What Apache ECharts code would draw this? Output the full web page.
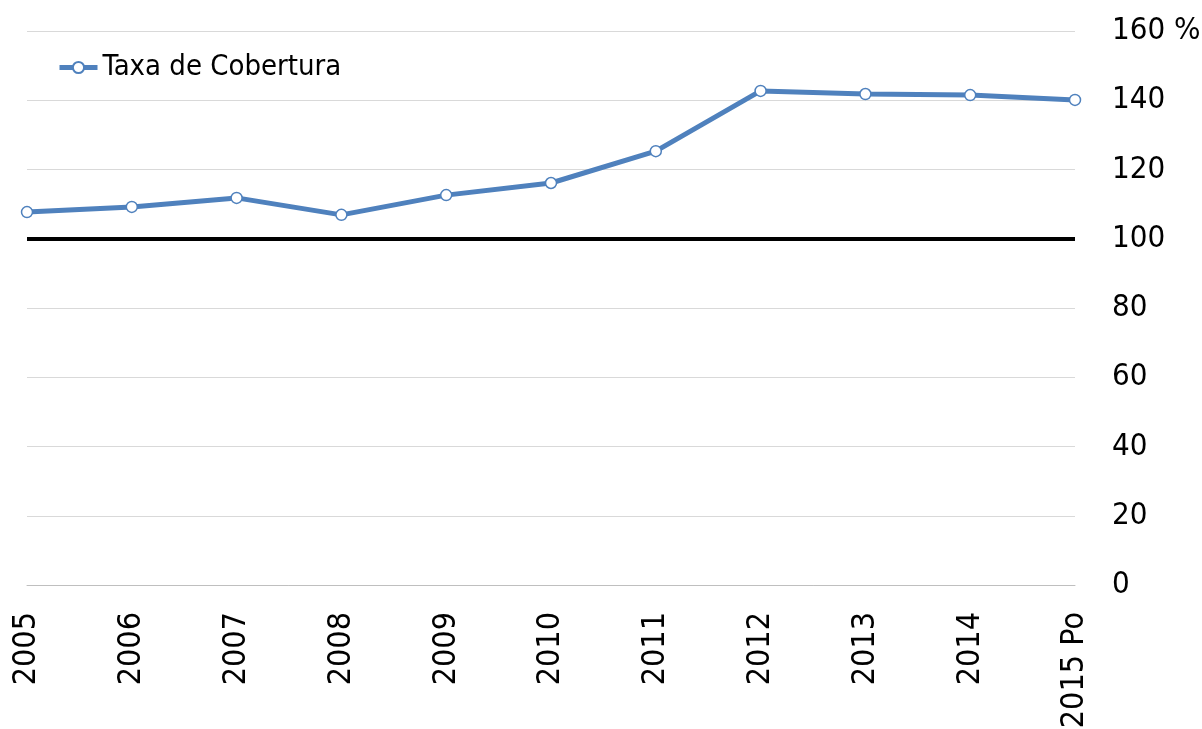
<!DOCTYPE html>
<html><head><meta charset="utf-8">
<script src="https://cdn.jsdelivr.net/npm/echarts@6/dist/echarts.min.js"></script>
<style>html,body{margin:0;padding:0;background:#fff}#c{width:1202px;height:729px}</style>
</head><body><div id="c"></div>
<script>
const categories = ['2005','2006','2007','2008','2009','2010','2011','2012','2013','2014','2015 Po'];
const taxaCobertura = [107.7, 109.2, 111.8, 106.9, 112.6, 116.1, 125.3, 142.7, 141.8, 141.5, 140.1];
const referenceLevel = 100;
const yTicks = {min: 0, max: 160, interval: 20, unit: '%'};

const FONT = '"Liberation Sans Narrow","DejaVu Sans Condensed","Roboto Condensed",Roboto,sans-serif';
const chart = echarts.init(document.getElementById('c'));
chart.setOption({
  animation: false,
  grid: {left: 27, right: 127, top: 31, bottom: 144, containLabel: false, outerBoundsMode: 'none'},
  legend: {
    left: 52, top: 48, itemWidth: 38, itemHeight: 14, itemGap: 4,
    lineStyle: {width: 5},
    textStyle: {fontFamily: FONT, fontSize: 29, color: '#000'},
    data: ['Taxa de Cobertura']
  },
  xAxis: {
    type: 'category', data: categories, boundaryGap: false,
    axisLine: {show: true, onZero: false, lineStyle: {color: '#bfbfbf', width: 1}}, axisTick: {show: false},
    axisLabel: {rotate: 90, margin: 27, fontFamily: FONT, fontSize: 32, color: '#000', interval: 0}
  },
  yAxis: {
    type: 'value', position: 'right', min: yTicks.min, max: yTicks.max, interval: yTicks.interval,
    axisLine: {show: false}, axisTick: {show: false},
    splitLine: {lineStyle: {color: '#d9d9d9', width: 1}},
    axisLabel: {margin: 37, fontFamily: FONT, fontSize: 31, color: '#000', align: 'left',
      formatter: v => v === yTicks.max ? v + ' ' + yTicks.unit : String(v)}
  },
  series: [{
    name: 'Taxa de Cobertura', type: 'line', data: taxaCobertura,
    symbol: 'circle', symbolSize: 11,
    lineStyle: {color: '#4F81BD', width: 5},
    itemStyle: {color: '#fff', borderColor: '#4F81BD', borderWidth: 1.5},
    z: 3,
    markLine: {
      silent: true, symbol: 'none', label: {show: false},
      lineStyle: {color: '#000', width: 4, type: 'solid'},
      data: [{yAxis: referenceLevel}], z: 2
    }
  }]
});
</script></body></html>
